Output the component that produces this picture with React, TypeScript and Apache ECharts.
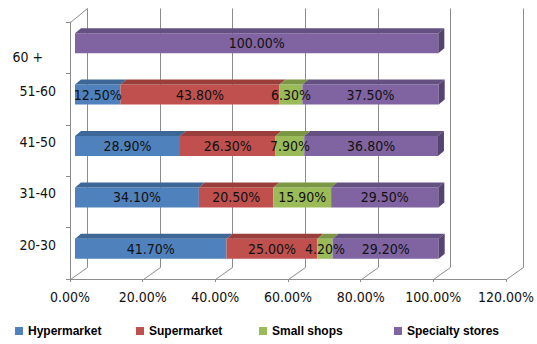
import React, { useEffect, useRef } from "react";
import * as echarts from "echarts";

const categories = ["20-30", "31-40", "41-50", "51-60", "60 +"];
const seriesNames = ["Hypermarket", "Supermarket", "Small shops", "Specialty stores"];
const hypermarket = [41.7, 34.1, 28.9, 12.5, 0];
const supermarket = [25.0, 20.5, 26.3, 43.8, 0];
const smallShops = [4.2, 15.9, 7.9, 6.3, 0];
const specialtyStores = [29.2, 29.5, 36.8, 37.5, 100];
const xTicks = [0, 20, 40, 60, 80, 100, 120];

const seriesValues = [hypermarket, supermarket, smallShops, specialtyStores];
const frontColors = ["#4F81BD", "#C0504D", "#9BBB59", "#8064A2"];
const topColors = ["#3D6797", "#9A3E3B", "#7C9744", "#655082"];
const sideColors = ["#345883", "#833432", "#6A813A", "#554370"];

const FONT = "'DejaVu Sans Condensed', 'DejaVu Sans', sans-serif";
const LEGEND_FONT = "'Liberation Sans', Arial, sans-serif";
const GRID_COLOR = "#8C8C8C";
const OX = 5;
const OY = -4.5;
const BAR_H = 20;
const DX = 6;
const DY = -5;
const WALL_DX = 17;
const WALL_DY_B = -12;
const WALL_DY_T = -14;
const legendLeft = [15, 136, 259, 394];

function buildStarts(): number[][] {
  const starts: number[][] = [];
  const acc = categories.map(() => 0);
  seriesValues.forEach((vals) => {
    starts.push(acc.slice());
    vals.forEach((v, i) => {
      acc[i] += v;
    });
  });
  return starts;
}

export default function App() {
  const ref = useRef<HTMLDivElement>(null);

  useEffect(() => {
    document.body.style.margin = "0";
    if (!ref.current) return;
    const chart = echarts.init(ref.current, undefined, { renderer: "svg" });
    const starts = buildStarts();

    const barSeries = seriesValues.map((vals, k) => ({
      type: "custom",
      name: seriesNames[k],
      z: 2,
      itemStyle: { color: frontColors[k] },
      encode: { x: [0, 1], y: 2 },
      data: vals.map((v, i) => [starts[k][i], starts[k][i] + v, i, v]),
      renderItem: (params: any, api: any) => {
        const v = api.value(3);
        if (!v) return null;
        const c = api.value(2);
        const a = api.coord([api.value(0), c]);
        const b = api.coord([api.value(1), c]);
        const x0 = a[0] + OX;
        const x1 = b[0] + OX;
        const yc = a[1] + OY;
        const top = yc - BAR_H / 2;
        const bot = yc + BAR_H / 2;
        const children: any[] = [
          {
            type: "rect",
            shape: { x: x0, y: top, width: x1 - x0, height: BAR_H },
            style: { fill: frontColors[k] },
          },
          {
            type: "polygon",
            shape: {
              points: [
                [x0, top],
                [x0 + DX, top + DY],
                [x1 + DX, top + DY],
                [x1, top],
              ],
            },
            style: { fill: topColors[k] },
          },
        ];
        if (k === seriesValues.length - 1) {
          children.push({
            type: "polygon",
            shape: {
              points: [
                [x1, top],
                [x1 + DX, top + DY],
                [x1 + DX, bot + DY],
                [x1, bot],
              ],
            },
            style: { fill: sideColors[k] },
          });
        }
        return { type: "group", children };
      },
    }));

    const labelData: number[][] = [];
    seriesValues.forEach((vals, k) => {
      vals.forEach((v, i) => {
        if (v > 0) labelData.push([starts[k][i] + v / 2, i, v]);
      });
    });

    const labelSeries = {
      type: "custom",
      name: "labels",
      z: 3,
      encode: { x: 0, y: 1 },
      data: labelData,
      renderItem: (params: any, api: any) => {
        const p = api.coord([api.value(0), api.value(1)]);
        return {
          type: "text",
          x: p[0] + OX,
          y: p[1] + OY,
          style: {
            text: api.value(2).toFixed(2) + "%",
            fill: "#111",
            fontSize: 14,
            fontFamily: FONT,
            align: "center",
            verticalAlign: "middle",
          },
        };
      },
    };

    const wallSeries = {
      type: "custom",
      name: "walls",
      z: 1,
      silent: true,
      encode: { x: 0, y: 1 },
      data: xTicks.map((t) => [t, 0]),
      renderItem: (params: any, api: any) => {
        const t = api.value(0);
        const p = api.coord([t, 0]);
        const cs = params.coordSys;
        const x = Math.round(p[0]) + 0.5;
        const yb = Math.round(cs.y + cs.height) + 0.5;
        const yt = Math.round(cs.y) + 0.5;
        const st = { stroke: GRID_COLOR, lineWidth: 1 };
        const children: any[] = [
          { type: "line", shape: { x1: x, y1: yb, x2: x + WALL_DX, y2: yb + WALL_DY_B }, style: st },
          {
            type: "line",
            shape: { x1: x + WALL_DX, y1: yb + WALL_DY_B, x2: x + WALL_DX, y2: yt + WALL_DY_T },
            style: st,
          },
        ];
        if (t === xTicks[0]) {
          children.push({
            type: "line",
            shape: { x1: x, y1: yt, x2: x + WALL_DX, y2: yt + WALL_DY_T },
            style: st,
          });
        }
        return { type: "group", children };
      },
    };

    chart.setOption({
      animation: false,
      grid: { left: 70, right: 31, top: 22, bottom: 65, containLabel: false },
      xAxis: {
        type: "value",
        min: 0,
        max: 120,
        interval: 20,
        axisLine: { show: true, lineStyle: { color: GRID_COLOR } },
        axisTick: { show: true, length: 3, lineStyle: { color: GRID_COLOR } },
        splitLine: { show: false },
        axisLabel: {
          margin: 11,
          fontSize: 14,
          fontFamily: FONT,
          color: "#111",
          formatter: (v: number) => v.toFixed(2) + "%",
        },
      },
      yAxis: {
        type: "category",
        data: categories,
        axisLine: { show: true, lineStyle: { color: GRID_COLOR } },
        axisTick: { show: true, length: 4, lineStyle: { color: GRID_COLOR } },
        splitLine: { show: false },
        axisLabel: {
          margin: 14,
          fontSize: 14,
          fontFamily: FONT,
          color: "#111",
          formatter: (v: string) => (v === "60 +" ? "{d|" + v + "}" : "{u|" + v + "}"),
          rich: {
            u: { fontSize: 14, fontFamily: FONT, color: "#111", lineHeight: 16, padding: [0, 0, 17, 0] },
            d: { fontSize: 14, fontFamily: FONT, color: "#111", lineHeight: 16, padding: [19, 13, 0, 0] },
          },
        },
      },
      legend: seriesNames.map((n, k) => ({
        data: [n],
        left: legendLeft[k],
        top: 325,
        padding: 0,
        itemWidth: 8,
        itemHeight: 8,
        icon: "rect",
        selectedMode: false,
        textStyle: { fontSize: 12, fontWeight: "bold", fontFamily: LEGEND_FONT, color: "#000" },
      })),
      series: [wallSeries, ...barSeries, labelSeries],
    });

    return () => {
      chart.dispose();
    };
  }, []);

  return <div ref={ref} style={{ width: 537, height: 344 }} />;
}
